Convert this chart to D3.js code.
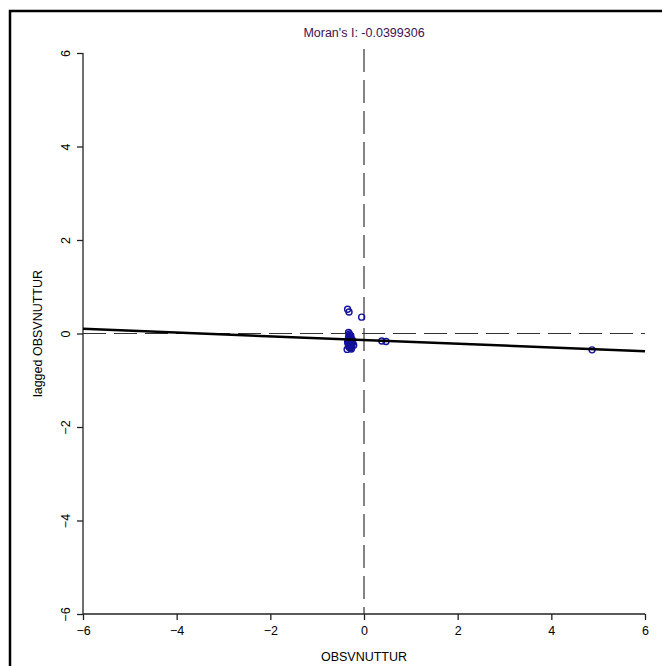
<!DOCTYPE html>
<html>
<head>
<meta charset="utf-8">
<script src="https://cdn.jsdelivr.net/npm/d3@7"></script>
<style>
  body { margin: 0; background: #fff; }
  text { font-family: "Liberation Sans", Arial, sans-serif; }
</style>
</head>
<body>
<div id="chart"></div>
<script>
// standardised values (x) and their spatial lags (y)
var obsX = [-0.35, -0.32, -0.05, -0.33, -0.31, -0.30, -0.28, -0.33, -0.30, -0.27, -0.25, -0.32,
            -0.29, -0.31, -0.26, -0.34, -0.30, -0.28, -0.33, -0.31, -0.29, -0.27, -0.36, -0.30,
            -0.24, -0.22, -0.26, -0.35, -0.28, -0.32,
            0.38, 0.47, 4.87];
var lagY = [0.52, 0.46, 0.35, 0.02, -0.01, -0.04, -0.06, -0.08, -0.10, -0.12, -0.14, -0.15,
            -0.17, -0.19, -0.21, -0.22, -0.24, -0.26, -0.28, -0.30, -0.31, -0.33, -0.34, -0.05,
            -0.20, -0.25, -0.29, -0.18, -0.11, -0.27,
            -0.16, -0.17, -0.35];
var moranI = -0.0399306;
var intercept = -0.14;
var ticks = [-6, -4, -2, 0, 2, 4, 6];
var xTitle = "OBSVNUTTUR", yTitle = "lagged OBSVNUTTUR";

var width = 662, height = 666;
var svg = d3.select("#chart").append("svg")
  .attr("width", width).attr("height", height);

// outer frame (runs off the right/bottom edge)
svg.append("rect")
  .attr("x", 10).attr("y", 11)
  .attr("width", 700).attr("height", 700)
  .attr("fill", "none").attr("stroke", "#000").attr("stroke-width", 2.5);

var x = d3.scaleLinear().domain([-6, 6]).range([83, 645]);
var y = d3.scaleLinear().domain([-6, 6]).range([614, 53]);

// axes, R style
var xAxis = svg.append("g")
  .attr("transform", "translate(0," + y(-6) + ")")
  .call(d3.axisBottom(x).tickValues(ticks).tickSize(6).tickPadding(4).tickFormat(d3.format("d")));
var yAxis = svg.append("g")
  .attr("transform", "translate(" + x(-6) + ",0)")
  .call(d3.axisLeft(y).tickValues(ticks).tickSize(6).tickPadding(4).tickFormat(d3.format("d")));

[xAxis, yAxis].forEach(function(a) {
  a.select(".domain").attr("stroke", "#222").attr("stroke-width", 1.3)
    .attr("d", a === xAxis ? "M" + x(-6) + ",0H" + x(6) : "M0," + y(-6) + "V" + y(6));
  a.selectAll(".tick line").attr("stroke", "#222").attr("stroke-width", 1.3);
  a.selectAll(".tick text").attr("fill", "#000").style("font-size", "12.5px");
});
xAxis.selectAll(".tick text").attr("dy", "0.9em");
// y tick labels rotated around the tick position
yAxis.selectAll(".tick text")
  .attr("text-anchor", "middle")
  .attr("x", 0).attr("y", 0)
  .attr("dy", "0.32em")
  .attr("transform", "translate(-17,0) rotate(-90)");

// dashed mean lines
svg.append("line")
  .attr("x1", x(0)).attr("x2", x(0)).attr("y1", y(6) - 4).attr("y2", y(-6))
  .attr("stroke", "#333").attr("stroke-width", 1.2).attr("stroke-dasharray", "23,8");
svg.append("line")
  .attr("x1", x(-6)).attr("x2", x(6)).attr("y1", y(0)).attr("y2", y(0))
  .attr("stroke", "#333").attr("stroke-width", 1.2).attr("stroke-dasharray", "23,8");

// points
svg.selectAll(".pt")
  .data(d3.range(obsX.length))
  .enter().append("circle")
  .attr("class", "pt")
  .attr("cx", function(i) { return x(obsX[i]); })
  .attr("cy", function(i) { return y(lagY[i]); })
  .attr("r", 3)
  .attr("fill", "none")
  .attr("stroke", "#12129a")
  .attr("stroke-width", 1.4);

// regression line
svg.append("line")
  .attr("x1", x(-6)).attr("x2", x(6))
  .attr("y1", y(intercept + moranI * -6)).attr("y2", y(intercept + moranI * 6))
  .attr("stroke", "#000").attr("stroke-width", 2.5);

// titles
svg.append("text")
  .attr("x", x(0)).attr("y", 37)
  .attr("text-anchor", "middle")
  .attr("fill", "#3c1250")
  .style("font-size", "12.5px")
  .text("Moran's I: " + moranI);

svg.append("text")
  .attr("x", x(0)).attr("y", 661)
  .attr("text-anchor", "middle")
  .attr("fill", "#000")
  .style("font-size", "12.5px")
  .text(xTitle);

svg.append("text")
  .attr("transform", "translate(42," + y(0) + ") rotate(-90)")
  .attr("text-anchor", "middle")
  .attr("fill", "#000")
  .style("font-size", "12.5px")
  .text(yTitle);
</script>
</body>
</html>
